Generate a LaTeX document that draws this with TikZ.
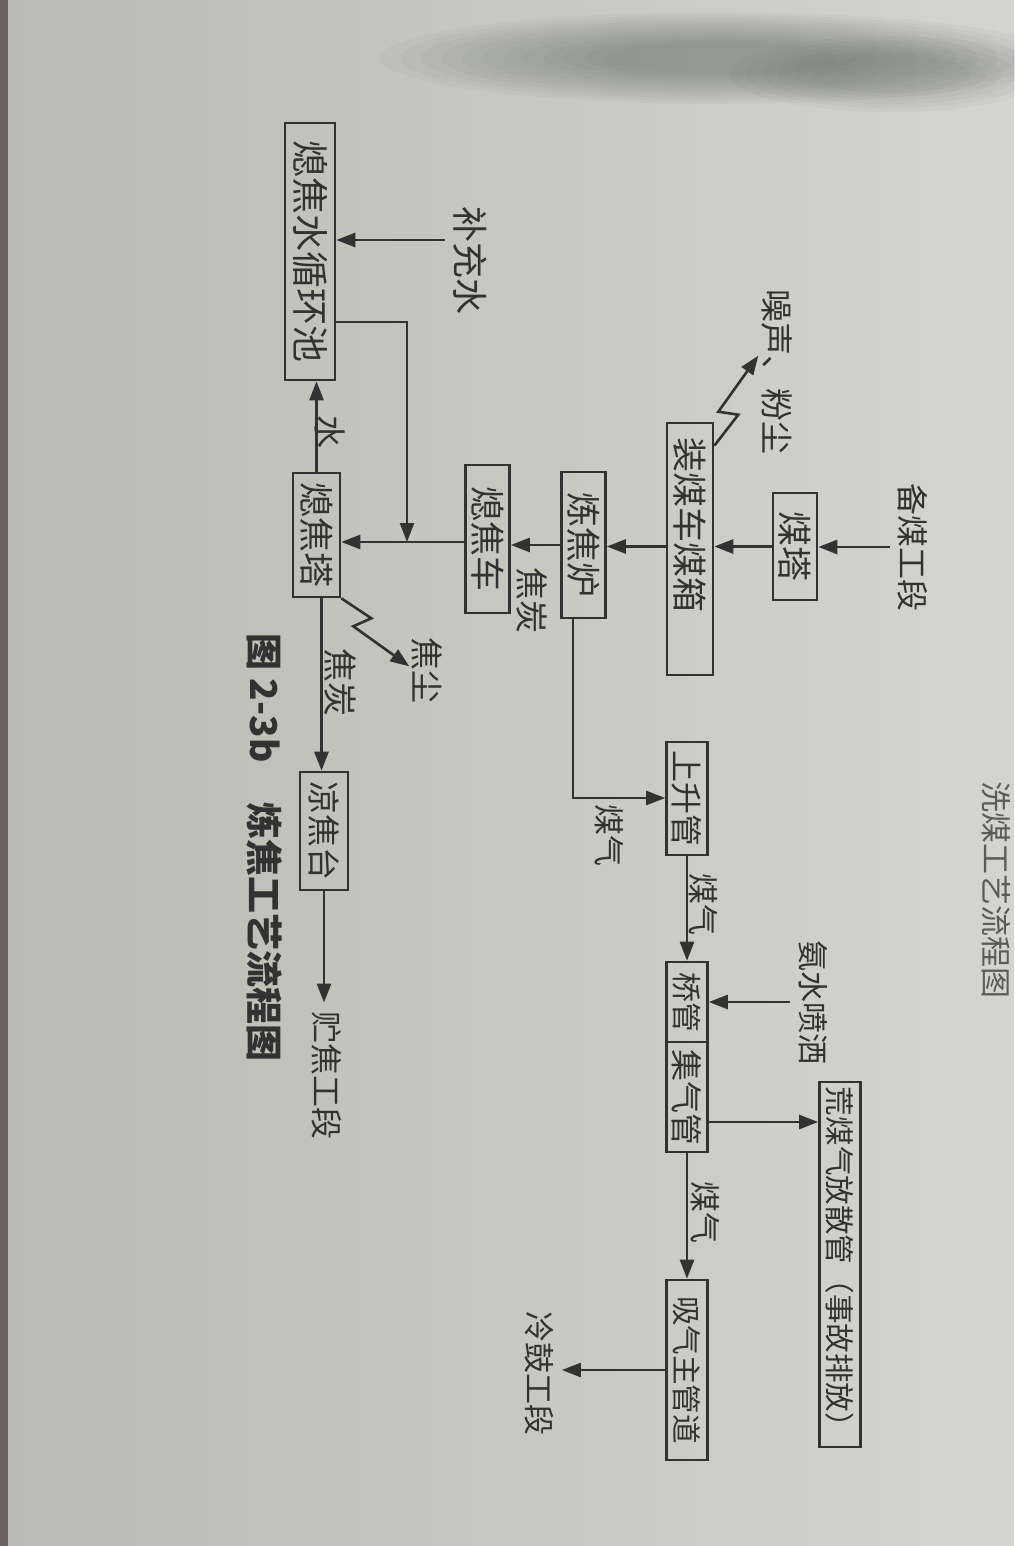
\documentclass[tikz,border=0pt]{standalone}
\usepackage{fontspec}
\setmainfont{Noto Sans CJK SC}
\usetikzlibrary{arrows.meta}
\definecolor{ink}{RGB}{50,50,50}
\definecolor{paperL}{RGB}{186,186,181}
\definecolor{paperR}{RGB}{212,212,208}
\definecolor{edgec}{RGB}{105,100,95}
\definecolor{smudge}{RGB}{80,86,82}
\tikzset{
  box/.style={draw=ink, line width=1.3pt, rotate=-90, minimum height=22pt, inner sep=0pt,
              text=ink, font=\fontsize{17.5}{17.5}\selectfont},
  rbox/.style={box, minimum height=20.5pt, font=\fontsize{16}{16}\selectfont},
  lab/.style={rotate=-90, inner sep=4pt, text=ink, font=\fontsize{15.5}{15.5}\selectfont},
  arr/.style={draw=ink, line width=1.3pt, -{Triangle[length=9.5pt,width=7pt]}},
  blot/.style={fill=smudge, opacity=0.045}
}
\begin{document}
\begin{tikzpicture}[x=0.5pt,y=-0.5pt]
\useasboundingbox (0,0) rectangle (1014,1546);
% paper (photo background)
\shade[left color=paperL, right color=paperR] (0,0) rectangle (1014,1546);
\fill[edgec] (0,0) rectangle (8,1546);
% soft dark smudge at the top of the photo
\foreach \r in {1.0,0.94,0.88,0.82,0.76,0.70,0.64,0.58,0.52,0.46,0.40,0.34}{
  \fill[blot] (720,58) ellipse [x radius=340*\r, y radius=46*\r];
}
\foreach \r in {1.0,0.9,0.8,0.7,0.6,0.5}{
  \fill[blot] (890,74) ellipse [x radius=160*\r, y radius=38*\r];
}

% ---- boxes ----
\node[box, minimum width=53.5pt] (mt) at (795,546.5) {煤塔};
\node[box, minimum height=23pt, minimum width=126pt, text width=112pt, align=left] (zm) at (690,549) {装煤车煤箱};
\node[box, minimum width=73pt] (lj) at (583.5,545) {炼焦炉};
\node[box, minimum width=74pt] (xc) at (487.5,539) {熄焦车};
\node[box, minimum height=23.5pt, minimum width=62pt] (xt) at (316.5,535) {熄焦塔};
\node[box, minimum height=25pt, minimum width=128.5pt, font=\fontsize{18.5}{18.5}\selectfont] (pool) at (310,251.5) {熄焦水循环池};
\node[box, minimum height=24pt, minimum width=59pt, font=\fontsize{16.5}{16.5}\selectfont] (lt) at (324,831) {凉焦台};
\node[rbox, minimum width=56.5pt] (ss) at (687,798.5) {上升管};
\node[rbox, minimum width=40pt, font=\fontsize{15}{15}\selectfont] (qg) at (687,1002) {桥管};
\node[rbox, minimum width=55pt] (jq) at (687,1097) {集气管};
\node[rbox, minimum width=182.5pt, font=\fontsize{14.8}{14.8}\selectfont] (hm) at (840,1264.5) {荒煤气放散管（事故排放）};
\node[rbox, minimum width=90pt, font=\fontsize{14.8}{14.8}\selectfont] (xq) at (687,1370) {吸气主管道};

% ---- labels ----
\node[lab, font=\fontsize{16}{16}\selectfont] (bm) at (913,547) {备煤工段};
\node[lab, font=\fontsize{16.5}{16.5}\selectfont] (zs) at (777,372) {噪声、粉尘};
\node[lab] (mq1) at (609,835) {煤气};
\node[lab] (mq2) at (703,904) {煤气};
\node[lab] (mq3) at (705,1212) {煤气};
\node[lab] (as) at (813,1002) {氨水喷洒};
\node[lab] (lg) at (539,1373) {冷鼓工段};
\node[lab, font=\fontsize{16.5}{16.5}\selectfont] (jt1) at (532,600) {焦炭};
\node[lab, font=\fontsize{17}{17}\selectfont] (jt2) at (340,682) {焦炭};
\node[lab, font=\fontsize{16.5}{16.5}\selectfont] (jc) at (427,670) {焦尘};
\node[lab, font=\fontsize{16.5}{16.5}\selectfont] (sw) at (330,432) {水};
\node[lab, font=\fontsize{18}{18}\selectfont] (bc) at (470,260) {补充水};
\node[lab, font=\fontsize{16}{16}\selectfont] (zj) at (327,1075) {贮焦工段};
\node[rotate=-90, anchor=west, inner sep=0pt, text=ink, font=\bfseries\fontsize{18.5}{18.5}\selectfont] (cap) at (265,633) {图 2-3b\hspace{20pt}炼焦工艺流程图};
\node[rotate=-90, inner sep=0pt, text=ink!80, font=\fontsize{15.5}{15.5}\selectfont] (prev) at (996,890) {洗煤工艺流程图};

% ---- helper coordinates ----
\coordinate (c1) at (573,798);
\coordinate (pc) at (407,322);
\coordinate (jn) at (407,542);
\coordinate (hy) at (760,1122);
\coordinate (bcs) at ([yshift=10pt]bc.south);

% ---- connectors ----
\draw[arr] (bm.south) -- (bm.south -| mt.north);
\draw[arr] (mt.south) -- (mt.south -| zm.north);
\draw[arr] (mt.south -| zm.south) -- (mt.south -| lj.north);
\draw[arr] (lj.south) -- (lj.south -| xc.north);
\draw[arr] (jn -| xc.south) -- (jn -| xt.north);
\draw[arr] (pc -| pool.north) -- (pc) -- (jn);
\draw[arr] (bcs) -- (bcs -| pool.north);
\draw[arr] (xt.west) -- (xt.west |- pool.east);
\draw[arr] (xt.north east) -- ++(30,20) -- ++(-18,8) -- ++(56,40);
\draw[arr] ([xshift=2.5pt]xt.east) -- ([xshift=2.5pt]xt.east |- lt.west);
\draw[arr] (lt.east) -- (lt.east |- zj.west);
\draw[arr] ([yshift=-12pt]zm.north west) -- ++(24,-31) -- ++(-20,-3) -- ++(40,-56);
\draw[arr] (c1 |- lj.east) -- (c1) -- (c1 -| ss.south);
\draw[arr] (ss.east) -- (qg.west);
\draw[arr] (as.south) -- (as.south -| qg.north);
\draw[arr] (hy -| jq.north) -- (hy -| hm.south);
\draw[arr] (jq.east) -- (xq.west);
\draw[arr] (xq.south) -- (xq.south -| lg.north);
\end{tikzpicture}
\end{document}
